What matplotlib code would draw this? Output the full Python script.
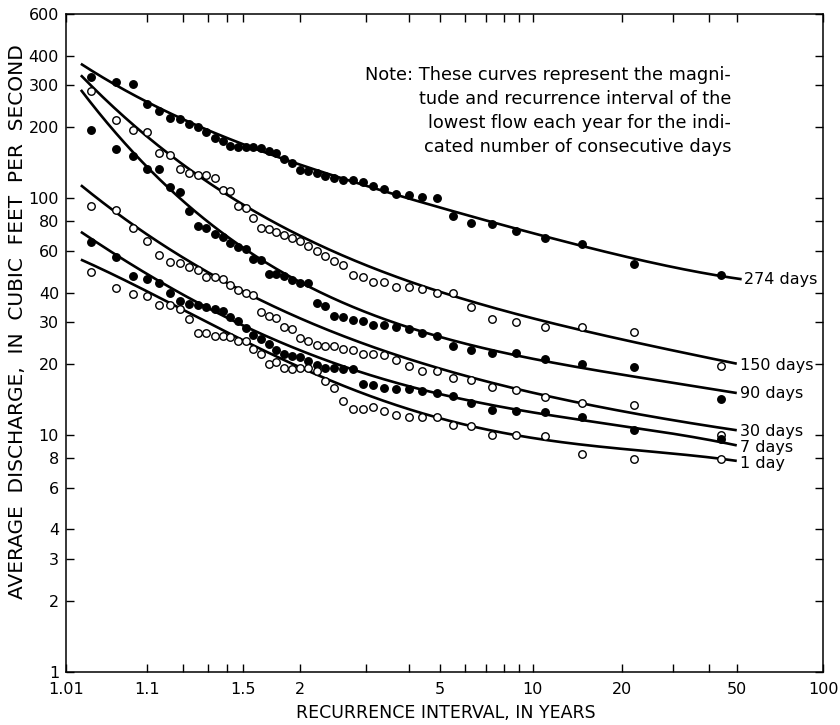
import numpy as np
import matplotlib.pyplot as plt
from matplotlib.ticker import NullFormatter, NullLocator

# ---------------------------------------------
# Courbes de fréquence des débits d'étiage
# (échelle de Gumbel en abscisse, log en ordonnée)
# ---------------------------------------------

# points observés : 43 années, classées (du plus fort au plus faible débit)
n_years = 43

q_274 = [326, 311, 304, 250, 234, 218, 216, 206, 200, 190,
         180, 175, 167, 165, 164, 164, 163, 159, 155, 146,
         141, 132, 130, 128, 124, 122, 120, 119, 117, 113,
         109, 104, 103, 101, 100, 84.5, 78.5, 77.8, 72.7, 68.1,
         64, 52.7, 47.5]
q_150 = [285, 214, 194, 190, 156, 153, 133.5, 128, 126, 125,
         122, 108.5, 107.5, 93, 91.4, 82.5, 74.8, 74.1, 72, 70.1,
         67.9, 66.3, 63.2, 60.2, 56.8, 54.1, 52.4, 47.5, 46.5, 44.5,
         44.5, 42.4, 42.4, 41.4, 39.8, 39.8, 34.7, 30.9, 30.1, 28.6,
         28.5, 27.2, 19.5]
q_90 = [194, 162, 150.6, 132.7, 132.7, 111.4, 106.1, 88.5, 76.5, 75.2,
        70.8, 68.5, 64.7, 62, 61.2, 55.4, 55, 47.9, 47.9, 47.1,
        45, 44.1, 43.8, 36.1, 35.2, 31.9, 31.5, 30.7, 30.2, 29.2,
        29.2, 28.6, 28.0, 27.1, 26.1, 23.7, 22.9, 22.2, 22.2, 21.0,
        20.0, 19.4, 14.2]
q_30 = [93, 89.4, 75.2, 66.3, 57.6, 53.6, 53.3, 51.5, 49.6, 46.5,
        46.5, 45.6, 43.1, 41.1, 40.0, 39.1, 33.0, 31.7, 31.2, 28.6,
        28.0, 25.7, 25.0, 24.1, 23.8, 23.7, 23.1, 22.9, 22.1, 22.1,
        21.8, 20.8, 19.5, 18.7, 18.7, 17.5, 17.1, 16.0, 15.5, 14.5,
        13.7, 13.4, 10.0]
q_7 = [65.5, 56.6, 47.1, 45.6, 43.8, 39.8, 36.7, 35.8, 35.5, 34.9,
       34.1, 33.3, 31.5, 30.2, 28.3, 26.5, 25.4, 24.3, 22.9, 22.1,
       21.6, 21.4, 20.5, 19.8, 19.2, 19.2, 19.1, 19.1, 16.5, 16.3,
       15.8, 15.7, 15.7, 15.4, 15.0, 14.6, 13.7, 12.8, 12.7, 12.5,
       11.9, 10.5, 9.6]
q_1 = [48.8, 42.0, 39.4, 38.8, 35.5, 35.5, 34.1, 31.0, 27.0, 27.1,
       26.1, 26.3, 25.9, 24.9, 24.9, 23.1, 22.1, 20.0, 20.3, 19.2,
       19.0, 19.2, 19.2, 18.6, 16.9, 15.8, 13.9, 12.9, 12.9, 13.1,
       12.6, 12.2, 11.9, 11.9, 11.9, 11.0, 10.9, 10.0, 10.0, 9.9,
       8.3, 7.9, 7.95]

# courbes tracées à la main
curve_T = [1.017, 1.1, 1.27, 1.5, 2, 5, 10, 15, 22.4, 45, 50]
c_274 = [372, 253, 197, 171, 141, 90, 71, 63, 55.4, 47.1, 45.5]
c_150 = [332, 182, 121, 94, 71, 39.8, 31, 27.5, 24.9, 20.4, 20.1]
c_90 = [285, 140, 80, 64, 44, 25.6, 21.5, 19.2, 17.3, 15.4, 15.1]
c_30 = [115, 67, 52.4, 42.5, 29.5, 19.2, 15.2, 13.6, 12.2, 10.7, 10.5]
c_7 = [72.4, 46.7, 36.7, 30.2, 21.5, 15.0, 12.8, 11.5, 10.5, 9.3, 9.1]
c_1 = [55.9, 39.1, 30.7, 26.1, 19.5, 11.3, 10.0, 9.1, 8.6, 7.9, 7.8]
curve_end = [52, 50, 50, 50, 50, 50]

labels = ["274 days", "150 days", "90 days", "30 days", "7 days", "1 day"]
label_q = [45.3, 19.6, 15.0, 10.35, 8.85, 7.6]
filled = [True, False, True, False, True, False]

x_major = [1.01, 1.1, 1.5, 2, 5, 10, 20, 50, 100]
x_labels = ["1.01", "1.1", "1.5", "2", "5", "10", "20", "50", "100"]
x_minor = [1.2, 1.3, 1.4, 3, 4, 6, 7, 8, 9, 30, 40]
y_ticks = [1, 2, 3, 4, 6, 8, 10, 20, 30, 40, 60, 80, 100, 200, 300, 400, 600]

note = ["Note: These curves represent the magni-",
        "tude and recurrence interval of the",
        "lowest flow each year for the indi-",
        "cated number of consecutive days"]


# échelle de Gumbel (variable réduite)
def gumbel(t):
    t = np.clip(np.asarray(t, dtype=float), 1.000001, 1e6)
    return -np.log(-np.log(1 - 1 / t))


def gumbel_inv(g):
    g = np.clip(np.asarray(g, dtype=float), -50, 50)
    return 1 / (1 - np.exp(-np.exp(-g)))


def smooth(tk, qk, t_end, n=300):
    # lissage polynomial dans l'espace (Gumbel, log Q)
    x = gumbel(tk)
    y = np.log10(qk)
    p = np.polyfit(x, y, 4)
    xs = np.linspace(x[0], gumbel(t_end), n)
    return gumbel_inv(xs), 10**np.polyval(p, xs)


rank = np.arange(n_years, 0, -1)
T_obs = (n_years + 1) / rank

plt.rcParams['font.family'] = ['DejaVu Sans']

fig = plt.figure(figsize=(8.4, 7.25), dpi=100)
ax = fig.add_axes([66 / 840, 1 - 672 / 725, 757 / 840, 658 / 725])
ax.set_xscale('function', functions=(gumbel, gumbel_inv))
ax.set_yscale('log')

series = [q_274, q_150, q_90, q_30, q_7, q_1]
curves = [c_274, c_150, c_90, c_30, c_7, c_1]
for q, c, te, lab, lq, f in zip(series, curves, curve_end, labels,
                                label_q, filled):
    tt, qq = smooth(curve_T, c, te)
    ax.plot(tt, qq, color="black", lw=1.9, solid_capstyle="butt")
    ax.plot(T_obs, q, "o", ms=5.4, mec="black", mew=1.0,
            mfc="black" if f else "white", ls="none")
    ax.annotate(lab, xy=(te, lq), xytext=(2, 0),
                textcoords="offset points", va="center", ha="left",
                fontsize=11.5, annotation_clip=False)

ax.set_xlim(1.01, 100)
ax.set_ylim(1, 600)
ax.set_xticks(x_major, x_labels)
ax.set_xticks(x_minor, minor=True)
ax.xaxis.set_minor_formatter(NullFormatter())
ax.set_yticks(y_ticks, [str(v) for v in y_ticks])
ax.yaxis.set_minor_locator(NullLocator())
ax.tick_params(which="both", direction="in", top=True, right=True,
               length=6, width=1, labelsize=11.5, pad=5)
ax.tick_params(axis="x", pad=7)
for sp in ax.spines.values():
    sp.set_linewidth(1.1)

for k, line in enumerate(note):
    fig.text(731 / 840, 1 - (75 + 24 * k) / 725, line, ha="right",
             va="center", fontsize=12.8)

fig.text(446 / 840, 1 - 713 / 725, "RECURRENCE INTERVAL, IN YEARS",
         ha="center", va="center", fontsize=12.5)
fig.text(18 / 840, 1 - 322 / 725,
         "AVERAGE  DISCHARGE,  IN  CUBIC  FEET  PER  SECOND",
         ha="center", va="center", rotation=90, fontsize=14.5)

fig.savefig("out.png", dpi=100)
